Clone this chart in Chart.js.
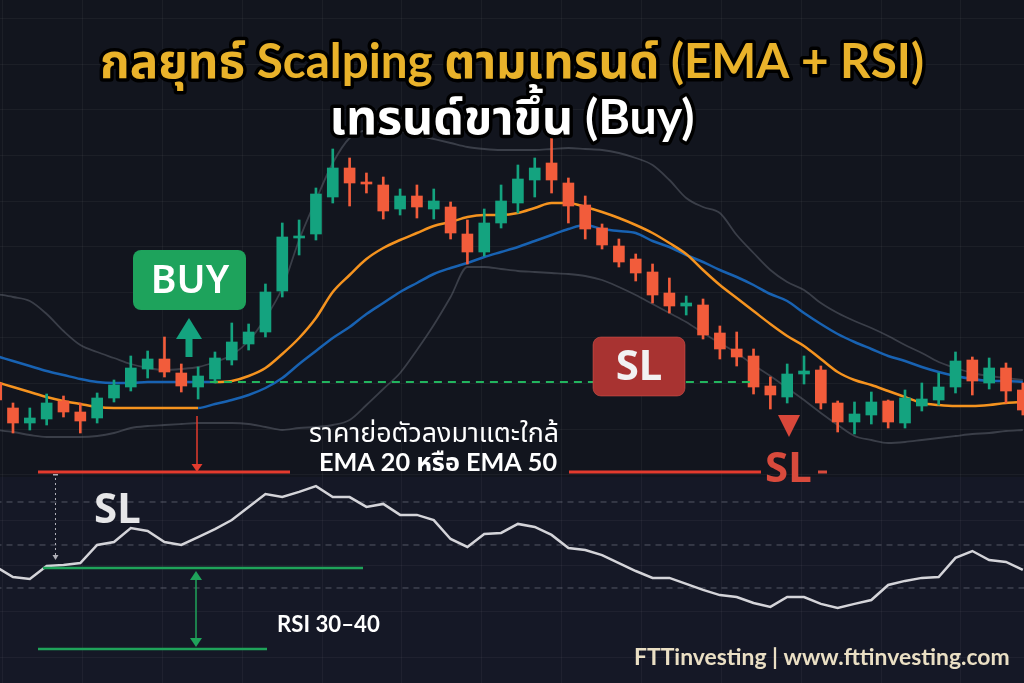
<!DOCTYPE html>
<html><head><meta charset="utf-8">
<script src="https://cdn.jsdelivr.net/npm/chart.js@4.4.1/dist/chart.umd.min.js"></script>
<style>html,body{margin:0;padding:0;background:#12151e;}canvas{display:block;}</style>
</head><body>
<canvas id="c" width="1024" height="683"></canvas>
<script>
// ---- price candles (one per bar) ----
const openP  = [1931.7,1929.2,1927.7,1928.1,1929.9,1928.8,1928.2,1930.2,1931.3,1933.1, 1934.1,1932.7,1931.3,1932.1,1934.0,1935.6,1936.8,1940.9,1946.2,1946.6, 1950.3,1953.2,1951.8,1951.5,1949.1,1950.4,1949.1,1949.3,1946.6,1944.8, 1947.7,1949.7,1952.0,1953.7,1951.7,1949.5,1947.2,1945.4,1944.1,1942.8, 1940.7,1939.4,1939.5,1936.7,1935.1,1934.4,1931.4,1930.3,1932.6,1933.0, 1929.7,1927.8,1928.5,1929.9,1927.7,1929.4,1930.0,1931.3,1934.0,1931.7, 1933.2,1931.0];
const closeP = [1930.0,1927.7,1928.2,1929.7,1928.8,1927.9,1930.2,1931.5,1933.2,1934.1, 1932.8,1931.4,1932.4,1934.2,1935.8,1936.8,1940.8,1946.3,1946.4,1950.6, 1953.2,1951.7,1951.6,1948.9,1950.4,1949.3,1949.9,1946.7,1944.8,1947.7, 1949.9,1952.1,1953.2,1952.0,1949.4,1947.1,1945.5,1943.8,1942.7,1940.5, 1939.4,1939.7,1936.5,1935.1,1934.3,1931.3,1930.5,1932.6,1932.9,1929.7, 1927.8,1928.6,1929.8,1927.8,1930.2,1930.1,1931.3,1933.9,1931.9,1933.2, 1930.9,1929.0];
const highP  = [1932.5,1929.7,1929.2,1930.6,1930.4,1929.7,1930.7,1932.0,1934.4,1934.9, 1936.3,1933.6,1933.3,1934.8,1937.7,1937.6,1941.6,1947.7,1948.0,1951.2, 1955.1,1954.2,1952.7,1952.3,1951.1,1951.5,1951.1,1949.8,1948.0,1949.1, 1951.5,1953.5,1954.2,1957.2,1952.2,1950.4,1947.6,1946.1,1944.6,1943.6, 1942.2,1940.4,1940.1,1937.4,1936.8,1935.1,1932.3,1933.6,1934.4,1933.4, 1929.9,1929.8,1930.8,1930.0,1931.0,1931.7,1932.7,1934.8,1934.3,1934.2, 1933.7,1931.7];
const lowP   = [1929.5,1926.7,1927.0,1927.5,1928.3,1926.7,1927.7,1929.8,1930.9,1932.2, 1932.3,1930.8,1930.1,1931.7,1933.5,1935.0,1936.3,1940.3,1944.5,1946.0, 1949.7,1949.4,1950.7,1948.1,1948.5,1948.2,1948.1,1946.1,1943.6,1944.4, 1947.2,1948.7,1950.3,1950.7,1947.7,1946.1,1945.1,1943.3,1941.9,1939.7, 1938.7,1938.5,1936.1,1934.1,1933.4,1930.6,1929.1,1929.7,1931.6,1929.1, 1926.8,1926.6,1927.6,1927.2,1927.2,1928.9,1929.5,1930.7,1930.5,1931.1, 1929.7,1928.5];
// ---- indicators ----
const ema20 = [1934.4,1933.9,1933.4,1932.9,1932.5,1932.1,1931.8,1931.7,1931.7,1931.8, 1931.8,1931.8,1931.8,1931.8,1931.9,1932.4,1933.2,1934.6,1936.2,1938.2, 1940.8,1942.5,1944.1,1945.2,1946.0,1946.7,1947.4,1947.8,1948.3,1948.5, 1948.5,1948.7,1949.2,1949.7,1949.7,1949.3,1948.8,1948.2,1947.5,1946.7, 1945.7,1944.6,1943.0,1941.5,1940.2,1938.9,1937.6,1936.4,1935.4,1934.1, 1932.8,1932.0,1931.5,1930.9,1930.3,1929.7,1929.5,1929.4,1929.4,1929.5, 1929.7,1929.8];
const ema50 = [1931.8,1931.3,1930.8,1930.3,1929.9,1929.6,1929.3,1929.2,1929.2,1929.2, 1929.2,1929.2,1929.2,1929.6,1930.0,1930.5,1931.2,1932.2,1933.6,1934.9, 1936.2,1937.3,1938.6,1939.7,1940.8,1941.7,1942.6,1943.2,1943.7,1944.3, 1944.8,1945.3,1945.9,1946.5,1947.1,1947.5,1947.1,1946.9,1946.7,1945.9, 1945.3,1944.5,1943.8,1943.0,1942.3,1941.5,1940.6,1939.9,1938.7,1937.6, 1936.6,1935.8,1935.1,1934.4,1933.9,1933.3,1932.8,1932.4,1932.1,1931.9, 1931.9,1931.8];
const bbUpper = [1940.6,1940.3,1939.9,1938.6,1936.9,1935.5,1934.8,1934.2,1933.6,1933.2, 1933.0,1933.1,1933.3,1933.8,1934.5,1935.9,1938.2,1941.2,1946.0,1950.0, 1953.7,1956.2,1957.0,1957.2,1956.9,1956.5,1956.1,1955.7,1955.3,1955.1, 1955.0,1955.0,1955.0,1955.1,1955.2,1955.1,1955.0,1954.7,1954.2,1953.5, 1952.0,1950.2,1949.3,1948.7,1946.5,1944.7,1943.0,1941.8,1941.0,1939.7, 1938.7,1937.9,1937.2,1936.4,1935.5,1934.7,1933.8,1933.2,1932.7,1932.4, 1932.2,1932.0];
const bbLower = [1927.0,1926.8,1926.5,1926.3,1926.3,1926.3,1926.4,1926.7,1927.2,1927.4, 1927.5,1927.6,1927.7,1927.7,1927.7,1927.6,1927.3,1927.0,1927.2,1927.3, 1927.5,1928.0,1929.5,1931.1,1932.7,1935.0,1937.5,1940.3,1943.3,1943.3, 1943.1,1942.9,1942.8,1942.7,1942.6,1942.4,1942.0,1941.3,1940.5,1939.6, 1938.7,1937.8,1936.7,1935.7,1934.7,1933.5,1932.4,1931.2,1930.0,1928.7, 1927.5,1926.4,1926.0,1925.7,1925.8,1926.0,1926.2,1926.4,1926.6,1926.7, 1926.9,1927.0];
const rsi = [39.8,35.1,34.2,40.2,40.7,41.6,50.0,51.4,57.9,56.5, 51.4,50.0,53.7,57.4,61.6,67.7,73.7,72.3,74.7,77.4, 72.3,72.3,67.7,69.1,64.0,64.0,61.6,52.8,49.1,55.1, 55.6,59.8,58.4,54.7,48.6,47.7,45.3,41.6,37.9,34.7, 34.7,31.9,29.1,26.7,25.8,23.0,21.2,25.8,25.8,22.6, 20.7,22.6,24.4,31.4,33.3,34.7,35.1,44.0,47.2,43.0, 42.1,38.4];
const rsiLevels = [30, 50, 70];
// annotation levels
const entryPrice = 1931.8;
const slPrice = 1922.8;

const GREEN = '#14a37f', RED = '#f25c3b', ORANGE = '#f5931f', BLUE = '#1862b2';
const idx = openP.map((_, i) => i);
const candleCol = idx.map(i => closeP[i] >= openP[i] ? GREEN : RED);
const pts = arr => idx.map(i => ({x: i, y: arr[i]}));

const bg = {
  id: 'bg',
  beforeDraw(chart) {
    const c = chart.ctx;
    c.save();
    c.fillStyle = '#12151e'; c.fillRect(0, 0, chart.width, chart.height);
    c.fillStyle = '#151826'; c.fillRect(0, 477, chart.width, chart.height - 477);
    c.restore();
  }
};

function arrowHead(c, x, y, dir, w, h, col) {
  c.fillStyle = col; c.beginPath();
  c.moveTo(x, y); c.lineTo(x - w / 2, y - dir * h); c.lineTo(x + w / 2, y - dir * h); c.closePath(); c.fill();
}
function fitFont(c, text, weight, size, family, targetW) {
  c.font = `${weight} ${size}px ${family}`;
  const w = c.measureText(text).width;
  const s = size * targetW / w;
  c.font = `${weight} ${s.toFixed(1)}px ${family}`;
}
const FAM = 'Lato, "Noto Sans Thai", "Noto Sans Thai Looped", "Noto Sans", sans-serif';

const annot = {
  id: 'annot',
  afterDraw(chart) {
    const c = chart.ctx, xs = chart.scales.x, ys = chart.scales.y;
    c.save();
    // entry dashed line
    const ye = ys.getPixelForValue(entryPrice);
    c.strokeStyle = '#22b45e'; c.lineWidth = 2; c.setLineDash([8, 6]);
    c.beginPath(); c.moveTo(xs.getPixelForValue(12.7), ye); c.lineTo(xs.getPixelForValue(44.9), ye); c.stroke();
    c.setLineDash([]);
    // SL red lines
    const ysl = ys.getPixelForValue(slPrice);
    c.strokeStyle = '#e33b2e'; c.lineWidth = 3;
    c.beginPath(); c.moveTo(38, ysl); c.lineTo(290, ysl); c.moveTo(569, ysl); c.lineTo(761, ysl); c.stroke();
    c.fillStyle = '#d84a3c'; c.fillRect(818, ysl - 1.5, 9, 3);
    // red arrow down onto SL line
    c.strokeStyle = '#e33b2e'; c.lineWidth = 1.5;
    c.beginPath(); c.moveTo(197, 416); c.lineTo(197, ysl - 6); c.stroke();
    arrowHead(c, 197, ysl, 1, 11, 8, '#e33b2e');
    // BUY box
    c.fillStyle = '#1ea35c';
    c.beginPath(); c.roundRect(133, 250, 113, 60, 8); c.fill();
    c.fillStyle = '#ffffff'; c.textAlign = 'center'; c.textBaseline = 'middle';
    c.font = '600 39px "Noto Sans", sans-serif';
    c.fillText('BUY', 190, 282);
    // green up arrow
    c.fillStyle = GREEN;
    c.beginPath(); c.moveTo(189, 318); c.lineTo(202, 339); c.lineTo(176, 339); c.closePath(); c.fill();
    c.fillRect(185.5, 338, 7, 19);
    // SL box
    c.fillStyle = '#a83331';
    c.beginPath(); c.roundRect(593, 337, 92, 59, 8); c.fill();
    c.strokeStyle = 'rgba(220,90,80,0.5)'; c.lineWidth = 1; c.stroke();
    c.fillStyle = '#f2f2f2'; c.font = 'bold 42px "Noto Sans", sans-serif';
    c.fillText('SL', 639, 368);
    // red down triangle
    c.fillStyle = '#d9473a';
    c.beginPath(); c.moveTo(778, 415); c.lineTo(800, 415); c.lineTo(789, 437); c.closePath(); c.fill();
    // SL red text
    c.textAlign = 'left'; c.fillStyle = '#d84a3c';
    c.font = 'bold 42px "Noto Sans", sans-serif';
    c.fillText('SL', 765, 470);
    // white SL label
    c.fillStyle = '#e6e6e8';
    c.fillText('SL', 94, 511);
    // dotted vertical
    c.strokeStyle = '#b0b0b8'; c.lineWidth = 1; c.setLineDash([2, 3]);
    c.beginPath(); c.moveTo(55.5, 478); c.lineTo(55.5, 556); c.stroke(); c.setLineDash([]);
    arrowHead(c, 55.5, 560, 1, 6, 5, '#b0b0b8');
    c.fillStyle = '#b0b0b8'; c.fillRect(53, 474, 5, 1.5);
    // green RSI zone lines
    c.strokeStyle = '#1fa35a'; c.lineWidth = 2.5;
    c.beginPath(); c.moveTo(43, 568); c.lineTo(363, 568); c.moveTo(38, 649); c.lineTo(267, 649); c.stroke();
    c.lineWidth = 1.5;
    c.beginPath(); c.moveTo(196, 578); c.lineTo(196, 640); c.stroke();
    arrowHead(c, 196, 571, -1, 12, 9, '#1fa35a');
    arrowHead(c, 196, 647, 1, 12, 9, '#1fa35a');
    // texts
    c.fillStyle = '#ffffff'; c.textAlign = 'center';
    fitFont(c, 'RSI 30–40', 'bold', 22, FAM, 103);
    c.textAlign = 'left'; c.fillText('RSI 30–40', 277, 625);
    c.textAlign = 'center';
    fitFont(c, 'ราคาย่อตัวลงมาแตะใกล้', 'normal', 24, FAM, 250);
    c.fillText('ราคาย่อตัวลงมาแตะใกล้', 434, 433);
    fitFont(c, 'EMA 20 หรือ EMA 50', 'bold', 22, FAM, 238);
    c.fillText('EMA 20 หรือ EMA 50', 438, 463);
    // footer
    c.fillStyle = '#eadfc4';
    fitFont(c, 'FTTinvesting | www.fttinvesting.com', 'bold', 20, FAM, 375);
    c.textAlign = 'left'; c.fillText('FTTinvesting | www.fttinvesting.com', 634, 658);
    // titles
    c.textAlign = 'center'; c.lineJoin = 'round';
    const t1 = 'กลยุทธ์ Scalping ตามเทรนด์ (EMA + RSI)';
    fitFont(c, t1, 'bold', 38, FAM, 824);
    c.strokeStyle = '#000000'; c.lineWidth = 7; c.strokeText(t1, 512, 63);
    c.fillStyle = '#e9b22a'; c.fillText(t1, 512, 63);
    const t2 = 'เทรนด์ขาขึ้น (Buy)';
    fitFont(c, t2, 'bold', 38, FAM, 365);
    c.strokeText(t2, 512, 118);
    c.fillStyle = '#ffffff'; c.fillText(t2, 512, 118);
    c.restore();
  }
};

const gridCol = 'rgba(255,255,255,0.045)';
new Chart(document.getElementById('c'), {
  type: 'bar',
  data: {
    datasets: [
      { type: 'bar', label: 'body', data: idx.map(i => ({x: i, y: [openP[i], closeP[i]]})), backgroundColor: candleCol,
        barThickness: 11, minBarLength: 2, grouped: false, order: 0, yAxisID: 'y', xAxisID: 'x' },
      { type: 'bar', label: 'wick', data: idx.map(i => ({x: i, y: [lowP[i], highP[i]]})), backgroundColor: candleCol,
        barThickness: 2, grouped: false, order: 1, yAxisID: 'y', xAxisID: 'x' },
      { type: 'line', label: 'EMA 20', data: pts(ema20), borderWidth: 2.5, pointRadius: 0, cubicInterpolationMode: 'monotone',
        borderColor: ORANGE, segment: { borderColor: s => s.p0DataIndex < 13 ? BLUE : ORANGE }, order: 2, yAxisID: 'y', xAxisID: 'x' },
      { type: 'line', label: 'EMA 50', data: pts(ema50), borderWidth: 2.5, pointRadius: 0, cubicInterpolationMode: 'monotone',
        borderColor: BLUE, segment: { borderColor: s => s.p0DataIndex < 12 ? ORANGE : BLUE }, order: 2, yAxisID: 'y', xAxisID: 'x' },
      { type: 'line', label: 'BB upper', data: pts(bbUpper), borderWidth: 1.8, pointRadius: 0, cubicInterpolationMode: 'monotone',
        borderColor: 'rgba(115,120,132,0.42)', order: 3, yAxisID: 'y', xAxisID: 'x' },
      { type: 'line', label: 'BB lower', data: pts(bbLower), borderWidth: 1.8, pointRadius: 0, cubicInterpolationMode: 'monotone',
        borderColor: 'rgba(115,120,132,0.42)', order: 3, yAxisID: 'y', xAxisID: 'x' },
      ...rsiLevels.map(l => ({ type: 'line', label: 'RSI ' + l, data: [{x: -2, y: l}, {x: openP.length + 1, y: l}],
        borderWidth: 1, borderDash: [6, 5], borderColor: 'rgba(160,165,180,0.45)', pointRadius: 0, order: 4, yAxisID: 'yR', xAxisID: 'x' })),
      { type: 'line', label: 'RSI', data: pts(rsi), borderWidth: 2.5, pointRadius: 0, tension: 0,
        borderColor: '#d4d4d9', order: 3, yAxisID: 'yR', xAxisID: 'x' }
    ]
  },
  options: {
    responsive: false, animation: false, devicePixelRatio: 1,
    layout: { padding: 0, autoPadding: false },
    plugins: { legend: { display: false }, tooltip: { enabled: false } },
    scales: {
      x: { type: 'linear', min: 0.228, max: 61.07, offset: false, display: false },
      y: { type: 'linear', min: 1901.7, max: 1970, display: false },
      yR: { type: 'linear', min: -14.19, max: 303.49, display: false },
      gx: { type: 'linear', axis: 'x', position: 'bottom', min: 0, max: 1024 / 87.1,
        ticks: { display: false, stepSize: 1, includeBounds: false },
        grid: { color: gridCol, drawTicks: false }, border: { display: false } },
      gy: { type: 'linear', axis: 'y', position: 'left', min: -0.57, max: -0.57 + 683 / 45.6,
        ticks: { display: false, stepSize: 1, includeBounds: false },
        grid: { color: gridCol, drawTicks: false }, border: { display: false } }
    }
  },
  plugins: [bg, annot]
});
</script>
</body></html>
